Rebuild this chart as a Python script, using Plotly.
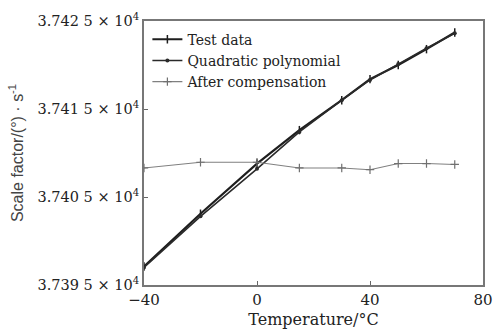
import plotly.graph_objects as go

# Temperature points (°C)
temperature = [-40, -20, 0, 15, 30, 40, 50, 60, 70]

# Scale factor values, (°)·s^-1
test_data = [37397.1, 37403.1, 37408.8, 37412.6, 37416.0, 37418.4, 37420.0, 37421.8, 37423.7]
quadratic_fit = [37397.0, 37402.8, 37408.2, 37412.4, 37416.0, 37418.3, 37420.1, 37421.9, 37423.6]
compensated = [37408.3, 37408.95, 37408.95, 37408.3, 37408.3, 37408.1, 37408.8, 37408.8, 37408.7]

y_tick_vals = [37395, 37405, 37415, 37425]
y_tick_text = ["3.739 5 × 10<sup>4</sup>", "3.740 5 × 10<sup>4</sup>",
               "3.741 5 × 10<sup>4</sup>", "3.742 5 × 10<sup>4</sup>"]
x_tick_vals = [-40, 0, 40, 80]

serif = "DejaVu Serif"

fig = go.Figure()
fig.add_trace(go.Scatter(
    x=temperature, y=test_data, name="Test data", mode="lines+markers",
    line=dict(color="#1e1e1e", width=2.2),
    marker=dict(symbol="line-ns", size=6, line=dict(color="#1e1e1e", width=1.5)),
))
fig.add_trace(go.Scatter(
    x=temperature, y=quadratic_fit, name="Quadratic polynomial", mode="lines+markers",
    line=dict(color="#2a2a2a", width=1.6),
    marker=dict(symbol="circle", size=4, color="#2a2a2a"),
))
fig.add_trace(go.Scatter(
    x=temperature, y=compensated, name="After compensation", mode="lines+markers",
    line=dict(color="#808080", width=1.1),
    marker=dict(symbol="cross-thin", size=6, line=dict(color="#707070", width=1.2)),
))

fig.update_layout(
    width=496, height=329,
    margin=dict(l=144, r=11, t=20, b=44),
    paper_bgcolor="white", plot_bgcolor="white",
    showlegend=True,
    legend=dict(
        x=0.01, y=0.99, xanchor="left", yanchor="top",
        bgcolor="rgba(0,0,0,0)", itemwidth=30, tracegroupgap=0,
        font=dict(family=serif, size=14, color="#222"),
    ),
    xaxis=dict(
        range=[-40, 80], tickvals=x_tick_vals, ticks="inside", ticklen=4,
        tickcolor="#666", showgrid=False, zeroline=False, automargin=False,
        showline=True, linecolor="#777", linewidth=2, mirror=True,
        tickfont=dict(family=serif, size=15, color="#222"),
        title=dict(text="Temperature/°C", standoff=7,
                   font=dict(family=serif, size=16, color="#222")),
    ),
    yaxis=dict(
        range=[37395, 37425], tickvals=y_tick_vals, ticktext=y_tick_text,
        ticks="inside", ticklen=4, tickcolor="#666",
        showgrid=False, zeroline=False,
        showline=True, linecolor="#777", linewidth=2, mirror=True,
        tickfont=dict(family=serif, size=14.5, color="#222"),
        title=dict(text="Scale factor/(°) · s<sup>-1</sup>", standoff=10,
                   font=dict(family="Liberation Sans", size=16, color="#444")),
    ),
)

fig.write_html("out.html")
